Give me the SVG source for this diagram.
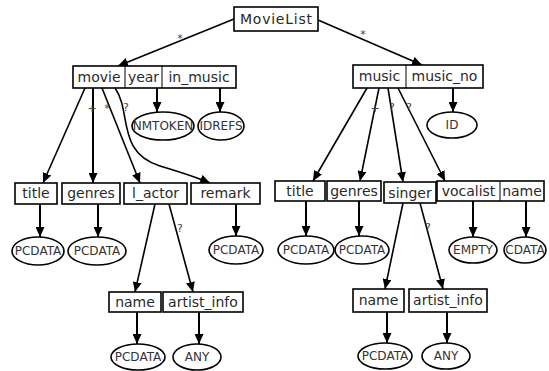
<svg xmlns="http://www.w3.org/2000/svg" width="549" height="371" viewBox="0 0 549 371">
  <defs>
    <marker id="arrow" markerUnits="userSpaceOnUse" markerWidth="10" markerHeight="9" refX="10" refY="4.5" orient="auto">
      <path d="M0,0 L10,4.5 L0,9 z" fill="#000"/>
    </marker>
    <style>
      .box { fill: #fff; stroke: #000; stroke-width: 1.6; }
      .sep { stroke: #000; stroke-width: 1; }
      .ell { fill: #fff; stroke: #000; stroke-width: 1.6; }
      .bt { font-family: "DejaVu Sans", "Liberation Sans", sans-serif; font-size: 14px; fill: #2a2a2a; text-anchor: middle; }
      .et { font-family: "DejaVu Sans", "Liberation Sans", sans-serif; font-size: 12px; fill: #333; text-anchor: middle; }
      .lbl { font-family: "DejaVu Sans", "Liberation Sans", sans-serif; font-size: 11px; fill: #444; text-anchor: middle; }
      .edge { fill: none; stroke: #000; stroke-width: 1.6; marker-end: url(#arrow); }
      .vedge { fill: none; stroke: #000; stroke-width: 2; marker-end: url(#arrow); }
    </style>
  </defs>
  <rect width="549" height="371" fill="#fff"/>

  <!-- connectors -->
  <g id="connectors">
    <line class="edge" x1="234" y1="19" x2="118" y2="66"/>
    <line class="edge" x1="318" y1="20" x2="422" y2="65"/>
    <line class="vedge" x1="157" y1="88" x2="157" y2="112"/>
    <line class="vedge" x1="220" y1="88" x2="220" y2="112"/>
    <line class="vedge" x1="453" y1="88" x2="453" y2="112"/>
    <line class="edge" x1="85" y1="88" x2="43" y2="183"/>
    <line class="vedge" x1="93" y1="88" x2="93" y2="183"/>
    <line class="edge" x1="102" y1="88" x2="140" y2="183"/>
    <path class="edge" d="M115,88 C132,112 116,152 160,166 C180,172 196,177 210,183"/>
    <line class="edge" x1="367" y1="88" x2="313" y2="181"/>
    <line class="edge" x1="379" y1="88" x2="360" y2="181"/>
    <line class="edge" x1="388" y1="88" x2="403" y2="182"/>
    <line class="edge" x1="398" y1="88" x2="445" y2="181"/>
    <line class="vedge" x1="40" y1="204" x2="40" y2="237"/>
    <line class="vedge" x1="98" y1="204" x2="98" y2="237"/>
    <line class="vedge" x1="236" y1="204" x2="236" y2="236"/>
    <line class="vedge" x1="306" y1="201" x2="306" y2="236"/>
    <line class="vedge" x1="359" y1="201" x2="359" y2="236"/>
    <line class="vedge" x1="473" y1="201" x2="473" y2="237"/>
    <line class="vedge" x1="526" y1="201" x2="526" y2="237"/>
    <line class="edge" x1="155" y1="204" x2="135" y2="292"/>
    <line class="edge" x1="169" y1="204" x2="193" y2="292"/>
    <line class="edge" x1="403" y1="203" x2="385" y2="289"/>
    <line class="edge" x1="420" y1="203" x2="443" y2="289"/>
    <line class="vedge" x1="137" y1="312" x2="137" y2="344"/>
    <line class="vedge" x1="199" y1="312" x2="199" y2="344"/>
    <line class="vedge" x1="387" y1="312" x2="387" y2="343"/>
    <line class="vedge" x1="447" y1="312" x2="447" y2="343"/>
    <!-- cardinality labels -->
    <text class="lbl" x="180" y="42">*</text>
    <text class="lbl" x="363" y="38">*</text>
    <text class="lbl" x="92" y="112">+</text>
    <text class="lbl" x="107" y="112">*</text>
    <text class="lbl" x="126" y="111">?</text>
    <text class="lbl" x="375" y="112">+</text>
    <text class="lbl" x="392" y="111">?</text>
    <text class="lbl" x="409" y="111">?</text>
    <text class="lbl" x="180" y="232">?</text>
    <text class="lbl" x="428" y="231">?</text>
  </g>

  <!-- root -->
  <g id="MovieList">
    <rect class="box" x="234" y="7" width="84" height="24"/>
    <text class="bt" x="276" y="24" textLength="72" lengthAdjust="spacing">MovieList</text>
  </g>

  <!-- movie element with attributes -->
  <g id="movie">
    <rect class="box" x="73" y="66" width="163" height="22"/>
    <line class="sep" x1="125" y1="66" x2="125" y2="88"/>
    <line class="sep" x1="162" y1="66" x2="162" y2="88"/>
    <text class="bt" x="99" y="82">movie</text>
    <text class="bt" x="143.5" y="82">year</text>
    <text class="bt" x="199" y="82">in_music</text>
  </g>
  <g id="movie-year-type">
    <ellipse class="ell" cx="163" cy="126" rx="31" ry="14"/>
    <text class="et" x="163" y="130">NMTOKEN</text>
  </g>
  <g id="movie-in_music-type">
    <ellipse class="ell" cx="221" cy="126" rx="23" ry="14"/>
    <text class="et" x="221" y="130">IDREFS</text>
  </g>

  <!-- music element with attribute -->
  <g id="music">
    <rect class="box" x="353" y="65" width="130" height="23"/>
    <line class="sep" x1="406" y1="65" x2="406" y2="88"/>
    <text class="bt" x="379.5" y="81">music</text>
    <text class="bt" x="444.5" y="81">music_no</text>
  </g>
  <g id="music-no-type">
    <ellipse class="ell" cx="452" cy="125" rx="25" ry="13"/>
    <text class="et" x="452" y="129">ID</text>
  </g>

  <!-- movie children -->
  <g id="movie-title">
    <rect class="box" x="15" y="183" width="42" height="21"/>
    <text class="bt" x="36" y="198">title</text>
  </g>
  <g id="movie-genres">
    <rect class="box" x="62" y="183" width="58" height="21"/>
    <text class="bt" x="91" y="198">genres</text>
  </g>
  <g id="l_actor">
    <rect class="box" x="124" y="183" width="63" height="21"/>
    <text class="bt" x="155.5" y="198">l_actor</text>
  </g>
  <g id="remark">
    <rect class="box" x="191" y="183" width="69" height="21"/>
    <text class="bt" x="225.5" y="198">remark</text>
  </g>
  <g id="movie-title-type">
    <ellipse class="ell" cx="38" cy="251" rx="26" ry="14"/>
    <text class="et" x="38" y="255">PCDATA</text>
  </g>
  <g id="movie-genres-type">
    <ellipse class="ell" cx="97" cy="251" rx="29" ry="14"/>
    <text class="et" x="97" y="255">PCDATA</text>
  </g>
  <g id="remark-type">
    <ellipse class="ell" cx="236" cy="250" rx="27" ry="14"/>
    <text class="et" x="236" y="254">PCDATA</text>
  </g>

  <!-- l_actor children -->
  <g id="actor-name">
    <rect class="box" x="109" y="292" width="52" height="20"/>
    <text class="bt" x="135" y="307">name</text>
  </g>
  <g id="actor-artist_info">
    <rect class="box" x="163" y="292" width="80" height="20"/>
    <text class="bt" x="203" y="307">artist_info</text>
  </g>
  <g id="actor-name-type">
    <ellipse class="ell" cx="138" cy="357" rx="27" ry="13"/>
    <text class="et" x="138" y="361">PCDATA</text>
  </g>
  <g id="actor-artist_info-type">
    <ellipse class="ell" cx="197" cy="357" rx="24" ry="13"/>
    <text class="et" x="197" y="361">ANY</text>
  </g>

  <!-- music children -->
  <g id="music-title">
    <rect class="box" x="275" y="181" width="50" height="20"/>
    <text class="bt" x="300" y="196">title</text>
  </g>
  <g id="music-genres">
    <rect class="box" x="327" y="181" width="54" height="20"/>
    <text class="bt" x="354" y="196">genres</text>
  </g>
  <g id="singer">
    <rect class="box" x="384" y="182" width="52" height="21"/>
    <text class="bt" x="410" y="198">singer</text>
  </g>
  <g id="vocalist">
    <rect class="box" x="437" y="181" width="107" height="20"/>
    <line class="sep" x1="500" y1="181" x2="500" y2="201"/>
    <text class="bt" x="468.5" y="196">vocalist</text>
    <text class="bt" x="522" y="196">name</text>
  </g>
  <g id="music-title-type">
    <ellipse class="ell" cx="306" cy="250" rx="28" ry="14"/>
    <text class="et" x="306" y="254">PCDATA</text>
  </g>
  <g id="music-genres-type">
    <ellipse class="ell" cx="362" cy="250" rx="27" ry="14"/>
    <text class="et" x="362" y="254">PCDATA</text>
  </g>
  <g id="vocalist-type">
    <ellipse class="ell" cx="473" cy="250" rx="24" ry="13"/>
    <text class="et" x="473" y="254">EMPTY</text>
  </g>
  <g id="vocalist-name-type">
    <ellipse class="ell" cx="525" cy="250" rx="21" ry="13"/>
    <text class="et" x="525" y="254">CDATA</text>
  </g>

  <!-- singer children -->
  <g id="singer-name">
    <rect class="box" x="353" y="289" width="51" height="23"/>
    <text class="bt" x="378.5" y="305">name</text>
  </g>
  <g id="singer-artist_info">
    <rect class="box" x="409" y="289" width="78" height="23"/>
    <text class="bt" x="448" y="305">artist_info</text>
  </g>
  <g id="singer-name-type">
    <ellipse class="ell" cx="385" cy="356" rx="27" ry="13"/>
    <text class="et" x="385" y="360">PCDATA</text>
  </g>
  <g id="singer-artist_info-type">
    <ellipse class="ell" cx="446" cy="356" rx="24" ry="13"/>
    <text class="et" x="446" y="360">ANY</text>
  </g>
</svg>
